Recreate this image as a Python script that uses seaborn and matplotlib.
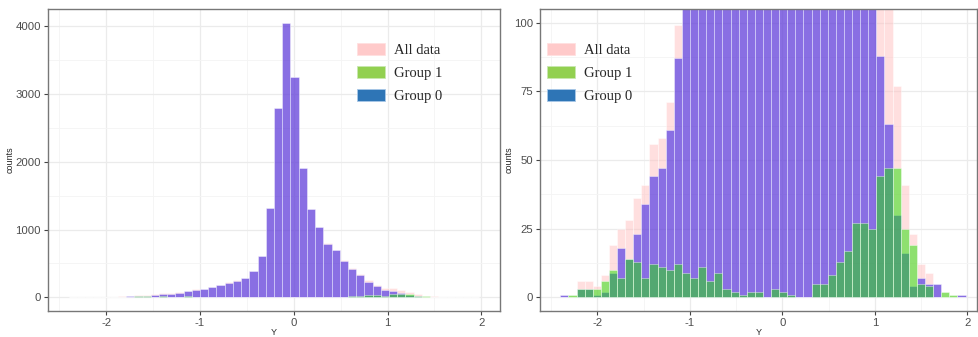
import numpy as np
import pandas as pd
import matplotlib
matplotlib.use("Agg")
import matplotlib.pyplot as plt
import seaborn as sns
from matplotlib.patches import Patch
from matplotlib.ticker import MultipleLocator

# ---- data (counts per bin) ----
bin_start = -2.40
bin_width = 0.0876
n_bins = 50

all_data = [1, 1, 6, 6, 4, 8, 19, 25, 28, 36, 41, 56, 58, 71, 99, 117, 122, 157, 186, 218,
            250, 282, 392, 606, 1313, 2795, 4050, 3255, 1915, 1301, 1031, 797, 697, 550, 430,
            340, 258, 187, 137, 132, 110, 77, 41, 23, 12, 9, 5, 2, 1, 1]
group1 = [0, 1, 3, 3, 3, 6, 10, 7, 14, 13, 7, 12, 11, 10, 12, 9, 7, 11, 6, 9,
          3, 2, 1, 2, 2, 0, 3, 2, 1, 0, 0, 5, 5, 8, 13, 17, 27, 27, 25, 44,
          47, 47, 25, 19, 5, 4, 0, 2, 1, 0]
group0 = [1, 0, 3, 3, 1, 2, 9, 18, 14, 23, 34, 44, 47, 61, 87, 108, 115, 146, 180, 209,
          247, 280, 391, 604, 1311, 2795, 4047, 3253, 1914, 1301, 1031, 792, 692, 542, 417,
          323, 231, 160, 112, 88, 63, 30, 16, 4, 7, 5, 5, 0, 0, 1]

legend_labels = ["All data", "Group 1", "Group 0"]
legend_colors = ["#FFCACA", "#92D050", "#2E75B6"]

bin_end = bin_start + bin_width * n_bins
centers = bin_start + bin_width * (np.arange(n_bins) + 0.5)

sns.set_theme(style="white")
plt.rcParams["font.family"] = ["Liberation Sans", "DejaVu Sans"]
plt.rcParams["axes.unicode_minus"] = False

fig = plt.figure(figsize=(9.79, 3.37), dpi=100)
ax1 = fig.add_axes([48 / 979, 26 / 337, 452 / 979, 302 / 337])
ax2 = fig.add_axes([540 / 979, 26 / 337, 437 / 979, 302 / 337])

layers = [
    (all_data, "#FFC0C0", 0.5),
    (group0, "#1400E7", 0.5),
    (group1, "#1FE100", 0.5),
]


def draw(ax, xlim, ylim, ymajor, yminor, leg_anchor):
    for vals, col, a in layers:
        df = pd.DataFrame({"Y": centers, "w": np.asarray(vals, dtype=float)})
        sns.histplot(data=df, x="Y", weights="w", bins=n_bins,
                     binrange=(bin_start, bin_end), color=col, alpha=a,
                     edgecolor=(1, 1, 1, 0.6), linewidth=0.45, ax=ax, zorder=2)
    ax.set_xlim(*xlim)
    ax.set_ylim(*ylim)
    ax.xaxis.set_major_locator(MultipleLocator(1))
    ax.xaxis.set_minor_locator(MultipleLocator(0.5))
    ax.yaxis.set_major_locator(MultipleLocator(ymajor))
    ax.yaxis.set_minor_locator(MultipleLocator(yminor))
    ax.grid(which="major", color="#EBEBEB", linewidth=0.9, zorder=0)
    ax.grid(which="minor", color="#F4F4F4", linewidth=0.6, zorder=0)
    ax.set_axisbelow(True)
    for s in ax.spines.values():
        s.set_color("#777777")
        s.set_linewidth(1.0)
    ax.tick_params(axis="both", which="major", length=3, width=0.8, color="#444444",
                   labelsize=8.2, labelcolor="#4D4D4D", pad=2, bottom=True, left=True)
    ax.tick_params(axis="both", which="minor", length=0)
    ax.set_xlabel("Y", fontsize=6.5, labelpad=0)
    ax.set_ylabel("counts", fontsize=6.5, labelpad=0.5)
    handles = [Patch(facecolor=legend_colors[0], edgecolor="#FFE0E0", linewidth=0.6),
               Patch(facecolor=legend_colors[1], edgecolor="#C8E8B0", linewidth=0.6),
               Patch(facecolor=legend_colors[2], edgecolor="#A8C8E8", linewidth=0.6)]
    ax.legend(handles, legend_labels, loc="upper left", bbox_to_anchor=leg_anchor,
              frameon=False, borderpad=0, borderaxespad=0,
              prop={"family": "Liberation Serif", "size": 10.5},
              handlelength=1.92, handleheight=0.89, handletextpad=0.62,
              labelspacing=0.62)


draw(ax1, (-2.619, 2.199), (-203, 4257), 1000, 500, (0.684, 0.889))
draw(ax2, (-2.62, 2.104), (-5, 105), 25, 12.5, (0.0167, 0.889))

fig.savefig("out.png", dpi=100)
